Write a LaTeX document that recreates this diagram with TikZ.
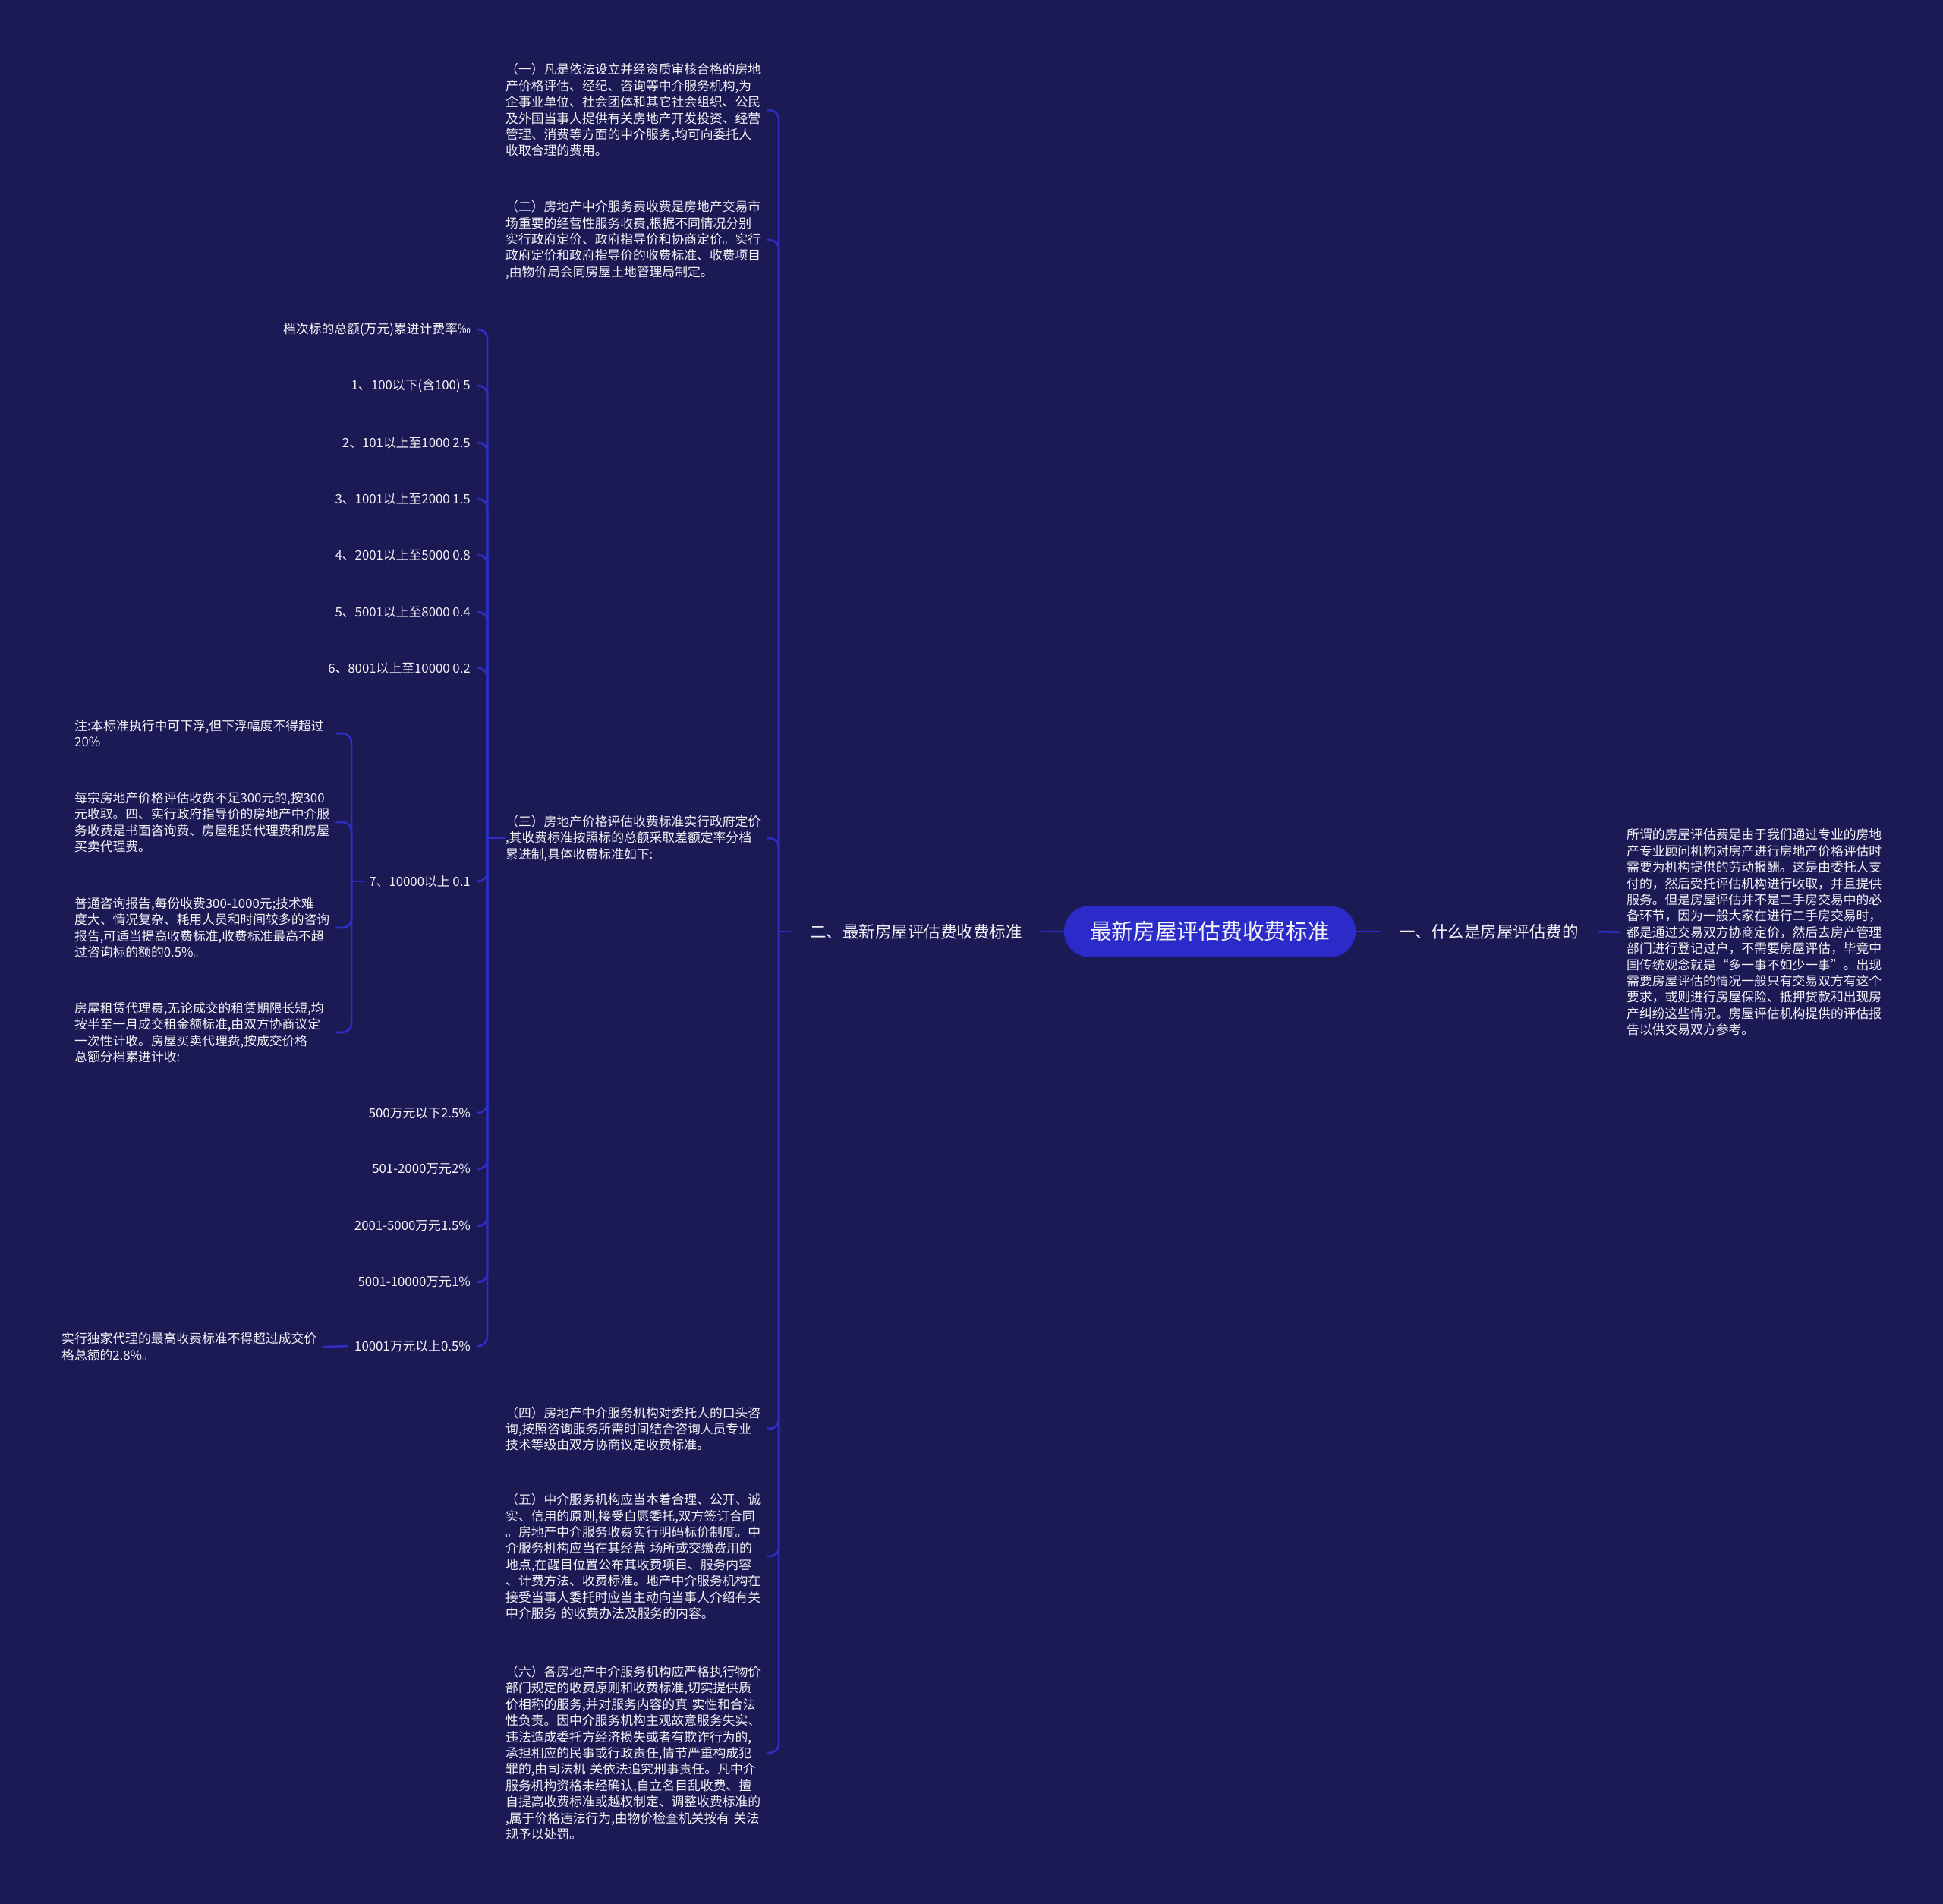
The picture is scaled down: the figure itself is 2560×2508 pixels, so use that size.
\documentclass[tikz,border=0pt]{standalone}
\usepackage{fontspec}
\setmainfont{Noto Sans CJK SC}
\usepackage{tikz}
\usetikzlibrary{positioning,calc}
\definecolor{bgnavy}{HTML}{1B1A55}
\definecolor{linkblue}{HTML}{2E2EC4}
\definecolor{rootblue}{HTML}{2B2BC9}
\definecolor{inkwhite}{HTML}{F2F2F7}

\begin{document}
\begin{tikzpicture}[x=1pt, y=-1pt,
  every node/.style={text=inkwhite, inner ysep=0pt},
  small/.style={font=\fontsize{16.8}{21.4}\selectfont},
  para/.style={small, align=left, text width=344pt, inner xsep=0pt, anchor=west},
  item/.style={small, inner xsep=8pt, anchor=east},
  lvl/.style={font=\fontsize{21.5}{26}\selectfont, inner xsep=25pt},
  root/.style={font=\fontsize{28.7}{34}\selectfont, fill=rootblue, rounded corners=33pt,
    minimum width=384pt, minimum height=67pt},
  conn/.style={draw=linkblue, line width=2.6pt, rounded corners=12pt}]
  \fill[bgnavy] (0,0) rectangle (2560,2508);
  \useasboundingbox (0,0) rectangle (2560,2508);

  % centre and first level
  \node[root] (root) at (1594,1227) {最新房屋评估费收费标准};
  \node[lvl, anchor=east] (l1) at (1372,1227) {二、最新房屋评估费收费标准};
  \node[lvl, anchor=west] (r1) at (1818,1227) {一、什么是房屋评估费的};
  \node[para, inner xsep=8pt, text width=344pt] (rp) at (2135,1228) {所谓的房屋评估费是由于我们通过专业的房地\\产专业顾问机构对房产进行房地产价格评估时\\需要为机构提供的劳动报酬。这是由委托人支\\付的，然后受托评估机构进行收取，并且提供\\服务。但是房屋评估并不是二手房交易中的必\\备环节，因为一般大家在进行二手房交易时，\\都是通过交易双方协商定价，然后去房产管理\\部门进行登记过户，不需要房屋评估，毕竟中\\国传统观念就是“多一事不如少一事”。出现\\需要房屋评估的情况一般只有交易双方有这个\\要求，或则进行房屋保险、抵押贷款和出现房\\产纠纷这些情况。房屋评估机构提供的评估报\\告以供交易双方参考。};

  % second level
  \node[para] (c1) at (666,145) {（一）凡是依法设立并经资质审核合格的房地\\产价格评估、经纪、咨询等中介服务机构,为\\企事业单位、社会团体和其它社会组织、公民\\及外国当事人提供有关房地产开发投资、经营\\管理、消费等方面的中介服务,均可向委托人\\收取合理的费用。};
  \node[para] (c2) at (666,316) {（二）房地产中介服务费收费是房地产交易市\\场重要的经营性服务收费,根据不同情况分别\\实行政府定价、政府指导价和协商定价。实行\\政府定价和政府指导价的收费标准、收费项目\\,由物价局会同房屋土地管理局制定。};
  \node[para] (c3) at (666,1104) {（三）房地产价格评估收费标准实行政府定价\\,其收费标准按照标的总额采取差额定率分档\\累进制,具体收费标准如下:};
  \node[para] (c4) at (666,1882) {（四）房地产中介服务机构对委托人的口头咨\\询,按照咨询服务所需时间结合咨询人员专业\\技术等级由双方协商议定收费标准。};
  \node[para] (c5) at (666,2050) {（五）中介服务机构应当本着合理、公开、诚\\实、信用的原则,接受自愿委托,双方签订合同\\。房地产中介服务收费实行明码标价制度。中\\介服务机构应当在其经营 场所或交缴费用的\\地点,在醒目位置公布其收费项目、服务内容\\、计费方法、收费标准。地产中介服务机构在\\接受当事人委托时应当主动向当事人介绍有关\\中介服务 的收费办法及服务的内容。};
  \node[para] (c6) at (666,2309) {（六）各房地产中介服务机构应严格执行物价\\部门规定的收费原则和收费标准,切实提供质\\价相称的服务,并对服务内容的真 实性和合法\\性负责。因中介服务机构主观故意服务失实、\\违法造成委托方经济损失或者有欺诈行为的,\\承担相应的民事或行政责任,情节严重构成犯\\罪的,由司法机 关依法追究刑事责任。凡中介\\服务机构资格未经确认,自立名目乱收费、擅\\自提高收费标准或越权制定、调整收费标准的\\,属于价格违法行为,由物价检查机关按有 关法\\规予以处罚。};

  % fee table
  \node[item] (i0) at (628,434) {档次标的总额(万元)累进计费率‰};
  \node[item] (i1) at (628,508) {1、100以下(含100) 5};
  \node[item] (i2) at (628,583) {2、101以上至1000 2.5};
  \node[item] (i3) at (628,657) {3、1001以上至2000 1.5};
  \node[item] (i4) at (628,731) {4、2001以上至5000 0.8};
  \node[item] (i5) at (628,806) {5、5001以上至8000 0.4};
  \node[item] (i6) at (628,880) {6、8001以上至10000 0.2};
  \node[item] (i7) at (628,1161) {7、10000以上 0.1};
  \node[item] (i8) at (628,1466) {500万元以下2.5\%};
  \node[item] (i9) at (628,1540) {501-2000万元2\%};
  \node[item] (i10) at (628,1615) {2001-5000万元1.5\%};
  \node[item] (i11) at (628,1689) {5001-10000万元1\%};
  \node[item] (i12) at (628,1773) {10001万元以上0.5\%};

  % notes
  \node[para] (n1) at (98,966) {注:本标准执行中可下浮,但下浮幅度不得超过\\20\%};
  \node[para] (n2) at (98,1083) {每宗房地产价格评估收费不足300元的,按300\\元收取。四、实行政府指导价的房地产中介服\\务收费是书面咨询费、房屋租赁代理费和房屋\\买卖代理费。};
  \node[para] (n3) at (98,1222) {普通咨询报告,每份收费300-1000元;技术难\\度大、情况复杂、耗用人员和时间较多的咨询\\报告,可适当提高收费标准,收费标准最高不超\\过咨询标的额的0.5\%。};
  \node[para] (n4) at (98,1360) {房屋租赁代理费,无论成交的租赁期限长短,均\\按半至一月成交租金额标准,由双方协商议定\\一次性计收。房屋买卖代理费,按成交价格\\总额分档累进计收:};
  \node[para] (n5) at (81,1774) {实行独家代理的最高收费标准不得超过成交价\\格总额的2.8\%。};

  % connectors
  \draw[conn] (root.west) -- (l1.east);
  \draw[conn] (root.east) -- (r1.west);
  \draw[conn] (r1.east) -- (rp.west);

  \coordinate (j1) at ($(l1.west)+(-16,0)$);
  \draw[conn] (l1.west) -- (j1);
  \foreach \c in {c1,c2,c3,c4,c5,c6}
    \draw[conn] (j1) |- (\c.east);

  \coordinate (j3) at ($(c3.west)+(-24,0)$);
  \draw[conn] (c3.west) -- (j3);
  \foreach \i in {i0,i1,i2,i3,i4,i5,i6,i7,i8,i9,i10,i11,i12}
    \draw[conn] (j3) |- (\i.east);

  \coordinate (j7) at ($(i7.west)+(-15,0)$);
  \draw[conn] (i7.west) -- (j7);
  \foreach \n in {n1,n2,n3,n4}
    \draw[conn] (j7) |- (\n.east);

  \draw[conn] (i12.west) -- (n5.east);
\end{tikzpicture}
\end{document}
